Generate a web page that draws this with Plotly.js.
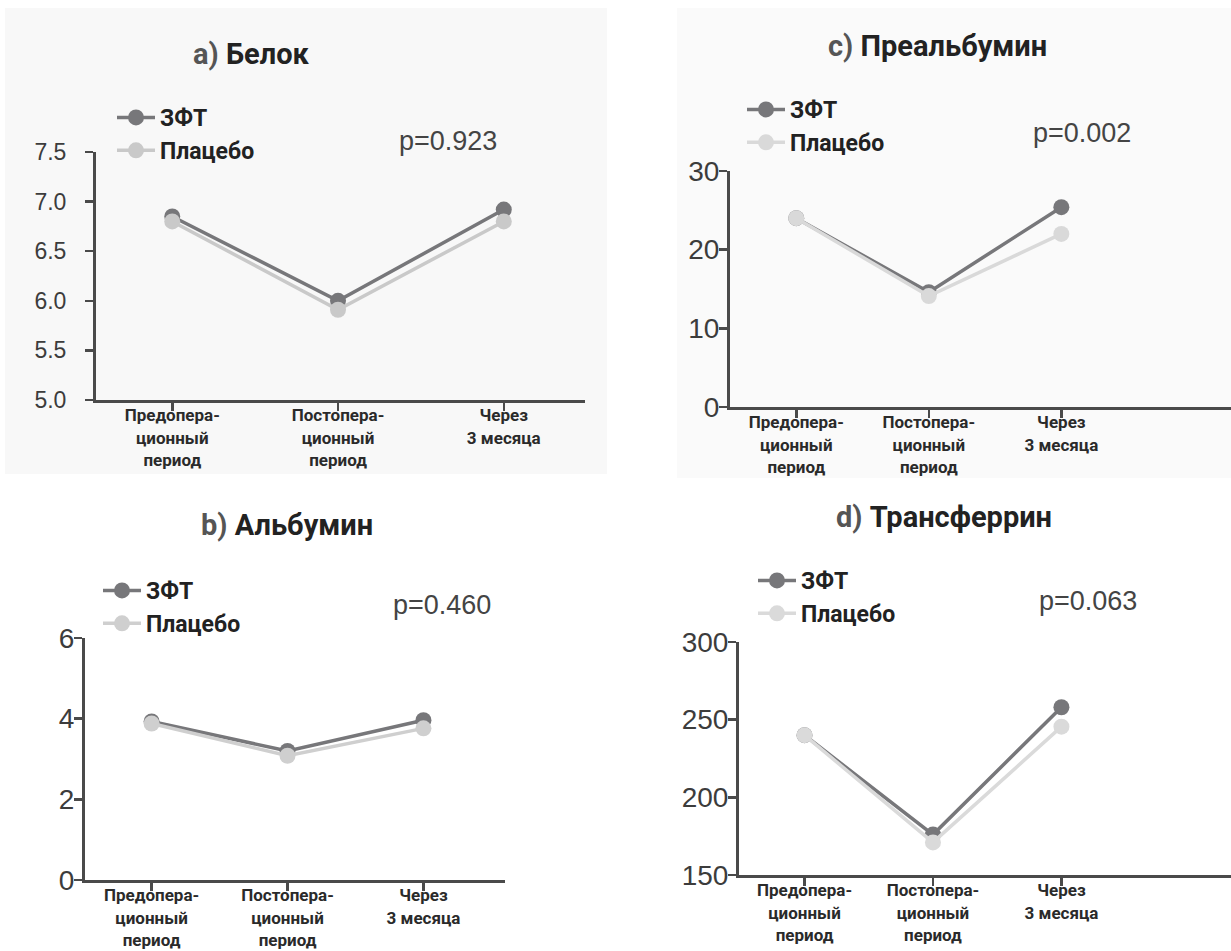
<!DOCTYPE html>
<html>
<head>
<meta charset="utf-8">
<script src="https://cdn.plot.ly/plotly-3.0.1.min.js"></script>
<style>html,body{margin:0;padding:0;background:#fff;}#chart{width:1231px;height:951px;}</style>
</head>
<body>
<div id="chart"></div>
<script>
// ---- data ----
const categories = ["Предопера-<br>ционный<br>период", "Постопера-<br>ционный<br>период", "Через<br>3 месяца"];
const seriesNames = ["ЗФТ", "Плацебо"];
const panelTitles = ["а)", "Белок", "b)", "Альбумин", "c)", "Преальбумин", "d)", "Трансферрин"];
const pValues = ["p=0.923", "p=0.460", "p=0.002", "p=0.063"];

const protein_ZFT = [6.85, 6.0, 6.92];
const protein_Placebo = [6.8, 5.91, 6.8];
const albumin_ZFT = [3.93, 3.2, 3.96];
const albumin_Placebo = [3.88, 3.08, 3.76];
const prealbumin_ZFT = [24.0, 14.6, 25.4];
const prealbumin_Placebo = [24.0, 14.1, 22.0];
const transferrin_ZFT = [240, 176, 258];
const transferrin_Placebo = [240, 171, 245.5];

const yTicks_a = [5.0, 5.5, 6.0, 6.5, 7.0, 7.5];
const yTicks_b = [0, 2, 4, 6];
const yTicks_c = [0, 10, 20, 30];
const yTicks_d = [150, 200, 250, 300];

// ---- layout helpers ----
const W = 1231, H = 951;
const px = v => v / W;
const py = v => 1 - v / H;

const darkCol = "#77777a";
const lightCols = ["#c9c9c9", "#cfcfcf", "#d9d9d9", "#dadada"];
const axisCol = "#4a4a4a";
const narrow = "Roboto, 'Liberation Sans', sans-serif";
const regular = "'Liberation Sans', Arial, sans-serif";

const panels = [
  {ax: "", dataZ: protein_ZFT, dataP: protein_Placebo, ticks: yTicks_a, fmt: v => v.toFixed(1),
   xdom: [96, 585], ydom: [400, 152], xr: [-0.46, 2.49], yr: [5.0, 7.5], tickSize: 23, ystand: 14,
   title: [0, 1], tx: 251, ty: 54, p: 0, ppx: 448, ppy: 141, leg: "legend", lx: 112, ly: 96},
  {ax: "2", dataZ: albumin_ZFT, dataP: albumin_Placebo, ticks: yTicks_b, fmt: v => String(v),
   xdom: [85, 505], ydom: [880, 638], xr: [-0.49, 2.6], yr: [0, 6], tickSize: 28, ystand: -6,
   title: [2, 3], tx: 287, ty: 525, p: 1, ppx: 442, ppy: 605, leg: "legend2", lx: 98, ly: 569},
  {ax: "3", dataZ: prealbumin_ZFT, dataP: prealbumin_Placebo, ticks: yTicks_c, fmt: v => String(v),
   xdom: [730, 1231], ydom: [407, 171], xr: [-0.5, 3.28], yr: [0, 30], tickSize: 28, ystand: -6,
   title: [4, 5], tx: 937, ty: 46, p: 2, ppx: 1082, ppy: 133, leg: "legend3", lx: 742, ly: 88},
  {ax: "4", dataZ: transferrin_ZFT, dataP: transferrin_Placebo, ticks: yTicks_d, fmt: v => String(v),
   xdom: [739, 1231], ydom: [875, 642], xr: [-0.51, 3.32], yr: [150, 300], tickSize: 28, ystand: -6,
   title: [6, 7], tx: 944, ty: 517, p: 3, ppx: 1088, ppy: 601, leg: "legend4", lx: 753, ly: 559}
];

const traces = [];
const layout = {
  width: W, height: H,
  margin: {l: 0, r: 0, t: 0, b: 0},
  paper_bgcolor: "#ffffff",
  plot_bgcolor: "rgba(0,0,0,0)",
  showlegend: true,
  annotations: [],
  shapes: [
    {type: "rect", xref: "paper", yref: "paper", x0: px(5), x1: px(607), y0: py(474), y1: py(8),
     fillcolor: "#f8f8f8", line: {width: 0}, layer: "below"},
    {type: "rect", xref: "paper", yref: "paper", x0: px(677), x1: 1, y0: py(478), y1: py(8),
     fillcolor: "#fafafa", line: {width: 0}, layer: "below"}
  ]
};

panels.forEach((pn, i) => {
  const xa = "x" + pn.ax, ya = "y" + pn.ax;
  const idx = [0, 1, 2];
  traces.push({
    type: "scatter", mode: "lines+markers", x: idx, y: pn.dataZ, xaxis: xa, yaxis: ya,
    name: seriesNames[0], legend: pn.leg, cliponaxis: false,
    line: {color: darkCol, width: 3.5}, marker: {color: darkCol, size: 16}
  });
  traces.push({
    type: "scatter", mode: "lines+markers", x: idx, y: pn.dataP, xaxis: xa, yaxis: ya,
    name: seriesNames[1], legend: pn.leg, cliponaxis: false,
    line: {color: lightCols[i], width: 3.5}, marker: {color: lightCols[i], size: 16}
  });

  layout["xaxis" + pn.ax] = {
    domain: [px(pn.xdom[0]), px(pn.xdom[1])], anchor: ya, range: pn.xr,
    showgrid: false, zeroline: false, showline: true, linecolor: axisCol, linewidth: 3,
    ticks: "outside", ticklen: 8, tickwidth: 2.5, tickcolor: axisCol,
    ticklabelstandoff: -10,
    tickvals: idx, ticktext: categories,
    tickfont: {family: narrow, size: 17, color: "#2a2a2a", weight: "bold"},
    fixedrange: true
  };
  layout["yaxis" + pn.ax] = {
    domain: [py(pn.ydom[0]), py(pn.ydom[1])], anchor: xa, range: pn.yr,
    showgrid: false, zeroline: false, showline: true, linecolor: axisCol, linewidth: 3,
    ticks: "outside", ticklen: 8, tickwidth: 2.5, tickcolor: axisCol,
    ticklabelstandoff: pn.ystand,
    tickvals: pn.ticks, ticktext: pn.ticks.map(pn.fmt),
    tickfont: {family: regular, size: pn.tickSize, color: "#3c3c3c"},
    fixedrange: true
  };
  layout[pn.leg] = {
    x: px(pn.lx), y: py(pn.ly), xanchor: "left", yanchor: "top",
    bgcolor: "rgba(0,0,0,0)", borderwidth: 0, tracegroupgap: 0, itemwidth: 38,
    font: {family: narrow, size: 23, color: "#222", weight: "bold"}
  };
  layout.annotations.push({
    xref: "paper", yref: "paper", x: px(pn.tx), y: py(pn.ty), xanchor: "center", yanchor: "middle",
    showarrow: false,
    text: '<span style="color:#555">' + panelTitles[pn.title[0]] + '</span> ' + panelTitles[pn.title[1]],
    font: {family: narrow, size: 29, color: "#222", weight: "bold"}
  });
  layout.annotations.push({
    xref: "paper", yref: "paper", x: px(pn.ppx), y: py(pn.ppy), xanchor: "center", yanchor: "middle",
    showarrow: false, text: pValues[pn.p],
    font: {family: regular, size: 27, color: "#444"}
  });
});

Plotly.newPlot("chart", traces, layout, {displayModeBar: false, staticPlot: true});
</script>
</body>
</html>
